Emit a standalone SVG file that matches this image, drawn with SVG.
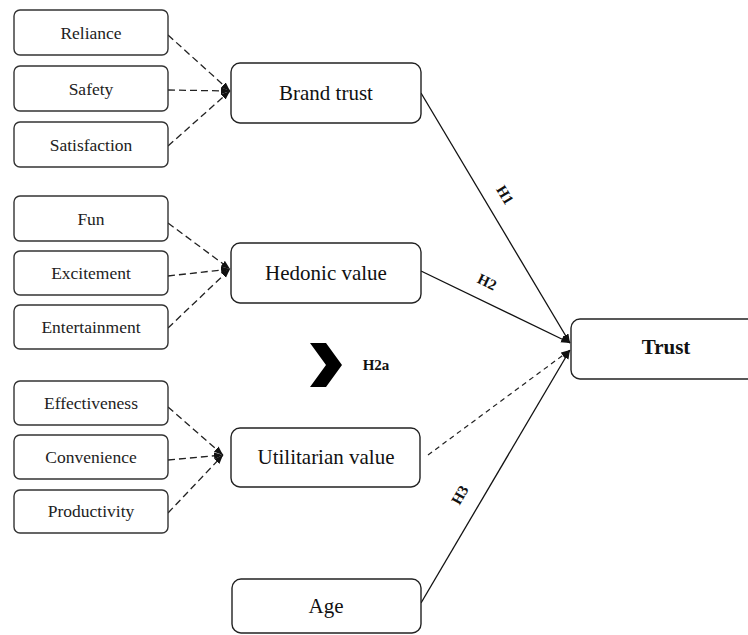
<svg xmlns="http://www.w3.org/2000/svg" width="748" height="635" viewBox="0 0 748 635">
<defs>
<style>
.sb{fill:#fff;stroke:#333;stroke-width:1.4}
.bb{fill:#fff;stroke:#222;stroke-width:1.4}
.st{font-family:"Liberation Serif","Times New Roman",serif;font-size:17.5px;fill:#222;text-anchor:middle}
.bt{font-family:"Liberation Serif","Times New Roman",serif;font-size:21px;fill:#111;text-anchor:middle}
.lb{font-family:"Liberation Serif","Times New Roman",serif;font-size:15px;font-weight:bold;fill:#111;text-anchor:middle}
.dash{stroke:#222;stroke-width:1.3;fill:none;stroke-dasharray:7 4;marker-end:url(#ah)}
.solid{stroke:#111;stroke-width:1.3;fill:none;marker-end:url(#ah)}
.fine{stroke:#222;stroke-width:1.2;fill:none;stroke-dasharray:5 4;marker-end:url(#ah)}
</style>
<marker id="ah" markerUnits="userSpaceOnUse" markerWidth="10" markerHeight="8" refX="9" refY="3.5" orient="auto">
<path d="M0,0 L9,3.5 L0,7 z" fill="#111"/>
</marker>
</defs>
<g id="connectors">
<line class="dash" x1="168" y1="35" x2="230" y2="91"/>
<line class="dash" x1="168" y1="90" x2="230" y2="91"/>
<line class="dash" x1="168" y1="146" x2="230" y2="91"/>
<line class="dash" x1="168" y1="223" x2="230" y2="269"/>
<line class="dash" x1="168" y1="276" x2="230" y2="269"/>
<line class="dash" x1="168" y1="328" x2="230" y2="269"/>
<line class="dash" x1="168" y1="407" x2="223" y2="455"/>
<line class="dash" x1="168" y1="460" x2="223" y2="455"/>
<line class="dash" x1="168" y1="513" x2="223" y2="455"/>
<line class="solid" x1="421" y1="93" x2="570" y2="343"/>
<line class="solid" x1="421" y1="271" x2="570" y2="343"/>
<line class="fine" x1="428" y1="455" x2="570" y2="350"/>
<line class="solid" x1="421" y1="603" x2="570" y2="350"/>
<text class="lb" transform="translate(505,195) rotate(59)" y="5">H1</text>
<text class="lb" transform="translate(487,282) rotate(25.6)" y="5">H2</text>
<text class="lb" transform="translate(460,495) rotate(-60)" y="5">H3</text>
</g>
<g id="reliance"><rect class="sb" x="14" y="10" width="154" height="45" rx="6"/><text class="st" x="91" y="39">Reliance</text></g>
<g id="safety"><rect class="sb" x="14" y="66" width="154" height="45" rx="6"/><text class="st" x="91" y="95">Safety</text></g>
<g id="satisfaction"><rect class="sb" x="14" y="122" width="154" height="45" rx="6"/><text class="st" x="91" y="151">Satisfaction</text></g>
<g id="fun"><rect class="sb" x="14" y="196" width="154" height="45" rx="6"/><text class="st" x="91" y="225">Fun</text></g>
<g id="excitement"><rect class="sb" x="14" y="251" width="154" height="44" rx="6"/><text class="st" x="91" y="279">Excitement</text></g>
<g id="entertainment"><rect class="sb" x="14" y="305" width="154" height="44" rx="6"/><text class="st" x="91" y="333">Entertainment</text></g>
<g id="effectiveness"><rect class="sb" x="14" y="381" width="154" height="44" rx="6"/><text class="st" x="91" y="409">Effectiveness</text></g>
<g id="convenience"><rect class="sb" x="14" y="435" width="154" height="44" rx="6"/><text class="st" x="91" y="463">Convenience</text></g>
<g id="productivity"><rect class="sb" x="14" y="490" width="154" height="43" rx="6"/><text class="st" x="91" y="517">Productivity</text></g>
<g id="brand-trust"><rect class="bb" x="231" y="63" width="190" height="60" rx="9"/><text class="bt" x="326" y="100">Brand trust</text></g>
<g id="hedonic-value"><rect class="bb" x="231" y="243" width="190" height="60" rx="9"/><text class="bt" x="326" y="280">Hedonic value</text></g>
<g id="utilitarian-value"><rect class="bb" x="231" y="428" width="189" height="59" rx="9"/><text class="bt" x="326" y="464">Utilitarian value</text></g>
<g id="age"><rect class="bb" x="232" y="579" width="189" height="54" rx="9"/><text class="bt" x="326" y="613">Age</text></g>
<g id="trust"><rect class="bb" x="571" y="319" width="190" height="60" rx="9"/><text class="bt" x="666" y="354" font-weight="bold">Trust</text></g>
<g id="h2a">
<polygon points="310,343 326,343 342,365 326,387 310,387 326,365" fill="#000"/>
<text class="lb" x="376" y="370">H2a</text>
</g>
</svg>
